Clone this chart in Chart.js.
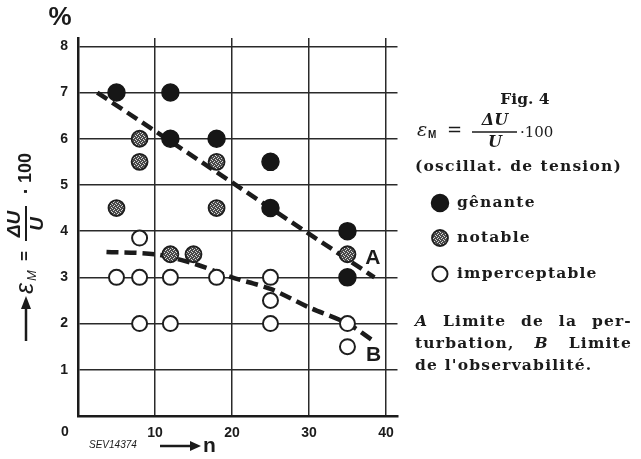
<!DOCTYPE html>
<html><head><meta charset="utf-8">
<script src="https://cdn.jsdelivr.net/npm/chart.js@4/dist/chart.umd.min.js"></script>
<style>html,body{margin:0;padding:0;background:#fff;}canvas{display:block;}</style>
</head><body>
<canvas id="c" width="641" height="459"></canvas>
<script>
// ---- data ----
const xTicks = [0, 10, 20, 30, 40];
const yTicks = [0, 1, 2, 3, 4, 5, 6, 7, 8];
const genanteX = [5, 12, 12, 18, 25, 25, 35, 35];
const genanteY = [7, 7, 6, 6, 5.5, 4.5, 4, 3];
const notableX = [8, 8, 5, 18, 18, 12, 15, 35];
const notableY = [6, 5.5, 4.5, 5.5, 4.5, 3.5, 3.5, 3.5];
const impercX = [8, 5, 8, 12, 18, 25, 25, 8, 12, 25, 35, 35];
const impercY = [3.85, 3, 3, 3, 3, 3, 2.5, 2, 2, 2, 2, 1.5];
const limitAX = [2.5, 38.5];
const limitAY = [7.0, 3.0];
const limitBX = [3.7, 10, 15, 20, 25, 30, 35, 38.6];
const limitBY = [3.55, 3.5, 3.3, 3.0, 2.75, 2.35, 2.0, 1.6];
const seriesNames = ['gênante', 'notable', 'imperceptable'];
const lineNames = ['A', 'B'];
const labelAPos = [38.3, 3.42];
const labelBPos = [38.4, 1.32];

const pts = (xs, ys) => xs.map((x, i) => ({x: x, y: ys[i]}));

const canvas = document.getElementById('c');
const mainCtx = canvas.getContext('2d');
function makePattern() {
  const t = document.createElement('canvas'); t.width = 4; t.height = 4;
  const g = t.getContext('2d');
  g.fillStyle = '#4a4a4a'; g.fillRect(0, 0, 4, 4);
  g.fillStyle = '#d8d8d8';
  g.fillRect(0, 0, 1, 1); g.fillRect(2, 1, 1, 1); g.fillRect(1, 2, 1, 1); g.fillRect(3, 3, 1, 1);
  return mainCtx.createPattern(t, 'repeat');
}
const notableFill = makePattern();
const ink = '#1b1b1b';
const tickFont = {family: '"Liberation Sans", Arial, sans-serif', size: 14, weight: 'bold'};

function justify(c, parts, x0, x1, y) {
  let total = 0;
  parts.forEach(p => { c.font = p.f; p.w = c.measureText(p.t).width; total += p.w; });
  const gap = parts.length > 1 ? (x1 - x0 - total) / (parts.length - 1) : 0;
  let x = x0;
  parts.forEach(p => { c.font = p.f; c.fillText(p.t, x, y); x += p.w + gap; });
}

const textPlugin = {
  id: 'texts',
  beforeDraw(chart) {
    const c = chart.ctx; c.save(); c.fillStyle = '#fff'; c.fillRect(0, 0, chart.width, chart.height); c.restore();
  },
  afterDraw(chart) {
    const c = chart.ctx, xs = chart.scales.x, ys = chart.scales.y;
    const sans = '"Liberation Sans", Arial, sans-serif';
    const serif = '"DejaVu Serif", serif';
    c.save();
    c.fillStyle = ink; c.strokeStyle = ink;
    c.textBaseline = 'middle'; c.textAlign = 'center';
    // % unit
    c.font = 'bold 26px ' + sans; c.fillText('%', 60, 18);
    // origin label
    c.font = 'bold 14px ' + sans; c.fillText('0', 65, 432);
    // SEV ref + n arrow
    c.textAlign = 'left';
    c.font = 'italic 10px ' + sans; c.fillText('SEV14374', 89, 445);
    c.lineWidth = 2.5; c.beginPath(); c.moveTo(160, 446); c.lineTo(192, 446); c.stroke();
    c.beginPath(); c.moveTo(201, 446); c.lineTo(190, 441); c.lineTo(190, 451); c.closePath(); c.fill();
    c.font = 'bold 21px ' + sans; c.fillText('n', 203, 446);
    // A / B labels
    c.font = 'bold 21px ' + sans; c.textAlign = 'center';
    c.fillText(lineNames[0], xs.getPixelForValue(labelAPos[0]), ys.getPixelForValue(labelAPos[1]));
    c.fillText(lineNames[1], xs.getPixelForValue(labelBPos[0]), ys.getPixelForValue(labelBPos[1]));

    // rotated y title
    c.save();
    c.translate(26, 341); c.rotate(-Math.PI / 2);
    c.lineWidth = 2.5; c.beginPath(); c.moveTo(0, 0); c.lineTo(34, 0); c.stroke();
    c.beginPath(); c.moveTo(45, 0); c.lineTo(32, -5); c.lineTo(32, 5); c.closePath(); c.fill();
    c.textAlign = 'left';
    c.font = 'italic 25px ' + sans; c.fillText('ε', 47, 0);
    c.font = 'italic 13px ' + sans; c.fillText('M', 60, 6);
    c.font = 'bold 17px ' + sans; c.fillText('=', 80, -1);
    c.lineWidth = 2; c.beginPath(); c.moveTo(100, 0); c.lineTo(135, 0); c.stroke();
    c.textAlign = 'center'; c.font = 'italic bold 19px ' + sans;
    c.fillText('ΔU', 117, -11); c.fillText('U', 117, 12);
    c.font = 'bold 20px ' + sans; c.fillText('·', 150, 0);
    c.textAlign = 'left'; c.font = 'bold 18px ' + sans; c.fillText('100', 158, 0);
    c.restore();

    // right panel
    c.textAlign = 'center'; c.textBaseline = 'middle';
    c.font = 'bold 15.5px ' + serif; c.fillText('Fig. 4', 525, 100);
    c.textAlign = 'left';
    c.font = 'italic 19px ' + serif; c.fillText('ε', 417, 131);
    c.font = 'bold 10px ' + sans; c.fillText('M', 428, 135);
    c.font = '18px ' + serif; c.fillText('=', 447, 131);
    c.lineWidth = 1.3; c.beginPath(); c.moveTo(472, 132); c.lineTo(517, 132); c.stroke();
    c.textAlign = 'center'; c.font = 'bold italic 16px ' + serif;
    c.fillText('ΔU', 495, 121); c.fillText('U', 495, 143);
    c.textAlign = 'left'; c.font = '15px ' + serif; c.fillText('·100', 520, 133);

    const body = 'bold 15.5px ' + serif;
    const bodyI = 'bold italic 15.5px ' + serif;
    try { c.letterSpacing = '1.2px'; } catch (e) {}
    justify(c, [{t: '(oscillat.', f: body}, {t: 'de', f: body}, {t: 'tension)', f: body}], 415, 622, 167);
    // legend
    const ds = chart.data.datasets;
    const legY = [203, 238, 274];
    for (let i = 0; i < 3; i++) {
      const d = ds[i];
      c.beginPath(); c.arc(440, legY[i], d.pointRadius, 0, Math.PI * 2);
      c.fillStyle = d.backgroundColor; c.fill();
      c.lineWidth = d.borderWidth; c.strokeStyle = d.borderColor; c.stroke();
      c.fillStyle = ink; c.font = body; c.fillText(seriesNames[i], 457, legY[i]);
    }
    // notes
    justify(c, [{t: 'A', f: bodyI}, {t: 'Limite', f: body}, {t: 'de', f: body}, {t: 'la', f: body}, {t: 'per-', f: body}], 415, 632, 322);
    justify(c, [{t: 'turbation,', f: body}, {t: 'B', f: bodyI}, {t: 'Limite', f: body}], 415, 632, 344);
    c.font = body; c.fillText("de l'observabilité.", 415, 366);
    try { c.letterSpacing = '0px'; } catch (e) {}
    c.restore();
  }
};

new Chart(canvas, {
  type: 'scatter',
  data: {
    datasets: [
      {label: seriesNames[0], data: pts(genanteX, genanteY), pointRadius: 8.5, pointHoverRadius: 8.5,
       backgroundColor: '#161616', borderColor: '#161616', borderWidth: 1.5, order: 0},
      {label: seriesNames[1], data: pts(notableX, notableY), pointRadius: 8, pointHoverRadius: 8,
       backgroundColor: notableFill, borderColor: '#1e1e1e', borderWidth: 1.8, order: 0},
      {label: seriesNames[2], data: pts(impercX, impercY), pointRadius: 7.5, pointHoverRadius: 7.5,
       backgroundColor: '#ffffff', borderColor: '#1e1e1e', borderWidth: 2, order: 0},
      {label: lineNames[0], data: pts(limitAX, limitAY), showLine: true, pointRadius: 0,
       borderColor: ink, borderWidth: 4.5, borderDash: [12, 6], fill: false, order: 1},
      {label: lineNames[1], data: pts(limitBX, limitBY), showLine: true, pointRadius: 0,
       borderColor: ink, borderWidth: 4.5, borderDash: [12, 6], fill: false, tension: 0.3, order: 1}
    ]
  },
  options: {
    responsive: false, animation: false, devicePixelRatio: 1,
    layout: {padding: {left: 0, top: 38, right: 243.5, bottom: 0}},
    plugins: {legend: {display: false}, tooltip: {enabled: false}},
    scales: {
      x: {
        type: 'linear', min: 0, max: 41.5,
        afterBuildTicks: s => { s.ticks = xTicks.map(v => ({value: v})); },
        afterFit: s => { s.height = 43; },
        ticks: {font: tickFont, color: ink, padding: 9, callback: v => (v === 0 ? '' : String(v))},
        grid: {color: '#2a2a2a', lineWidth: 1.5, drawTicks: false},
        border: {color: ink, width: 2.5}
      },
      y: {
        type: 'linear', min: 0, max: 8.18,
        afterBuildTicks: s => { s.ticks = yTicks.map(v => ({value: v})); },
        afterFit: s => { s.width = 78; },
        ticks: {font: tickFont, color: ink, padding: 10, callback: v => (v === 0 ? '' : String(v))},
        grid: {color: '#2a2a2a', lineWidth: 1.5, drawTicks: false},
        border: {color: ink, width: 2.5}
      }
    }
  },
  plugins: [textPlugin]
});
</script>
</body></html>
